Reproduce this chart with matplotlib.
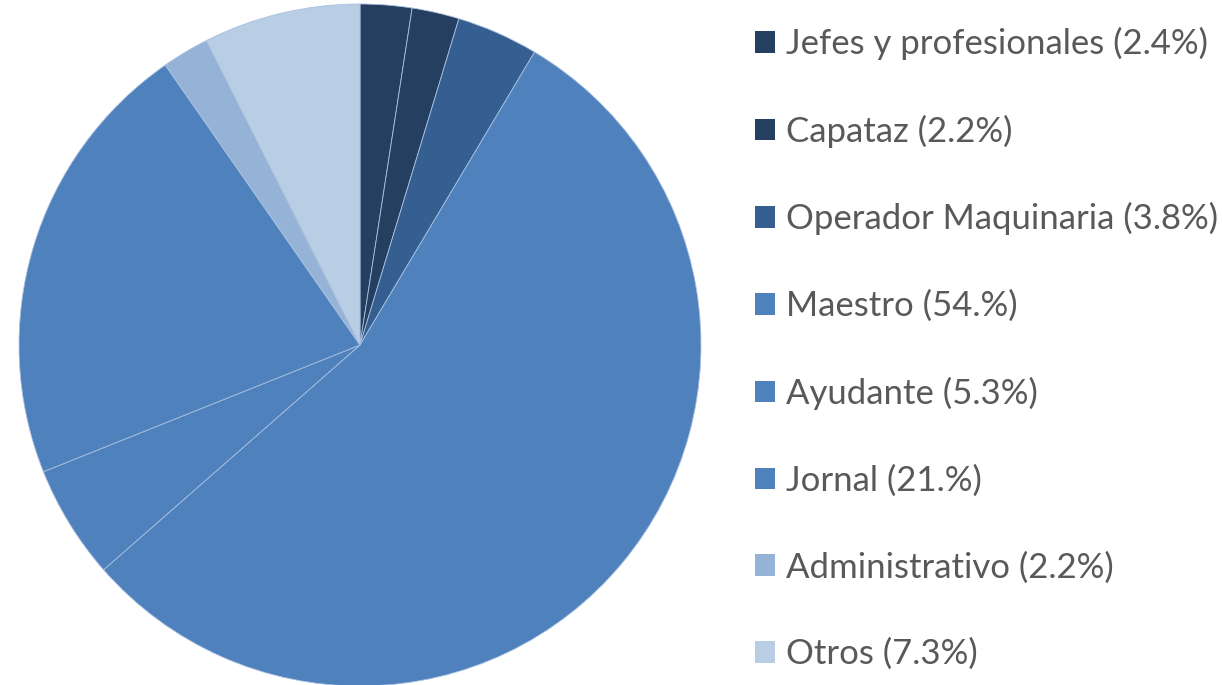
import matplotlib.pyplot as plt
from matplotlib.patches import Patch

# Data
categories = ["Jefes y profesionales", "Capataz", "Operador Maquinaria", "Maestro",
              "Ayudante", "Jornal", "Administrativo", "Otros"]
pct_labels = ["2.4%", "2.2%", "3.8%", "54.%", "5.3%", "21.%", "2.2%", "7.3%"]
values = [2.4, 2.2, 3.8, 54.0, 5.3, 21.0, 2.2, 7.3]
colors = ["#243f60", "#243f60", "#355f91", "#4f81bd", "#4f81bd", "#4f81bd",
          "#95b3d7", "#b9cde5"]

plt.rcParams["font.family"] = ["Lato", "DejaVu Sans"]

fig = plt.figure(figsize=(12.23, 6.85), dpi=100)
ax = fig.add_axes([19 / 1223, -1 / 685, 682 / 1223, 682 / 685])

ax.pie(values, colors=colors, startangle=90, counterclock=False,
       wedgeprops=dict(edgecolor="#a9c0e0", linewidth=0.6))
ax.set_xlim(-1, 1)
ax.set_ylim(-1, 1)
ax.set_aspect("equal")
ax.axis("off")

handles = [Patch(facecolor=c, edgecolor="none") for c in colors]
labels = [f"{cat} ({p})" for cat, p in zip(categories, pct_labels)]
fig.legend(handles, labels, loc="upper left", bbox_to_anchor=(755 / 1223, 1 - 27 / 685),
           frameon=False, fontsize=25, labelcolor="#595959",
           handlelength=0.58, handleheight=0.58, handletextpad=0.32,
           labelspacing=1.57, borderpad=0, borderaxespad=0)

fig.savefig("out.png", dpi=100)
